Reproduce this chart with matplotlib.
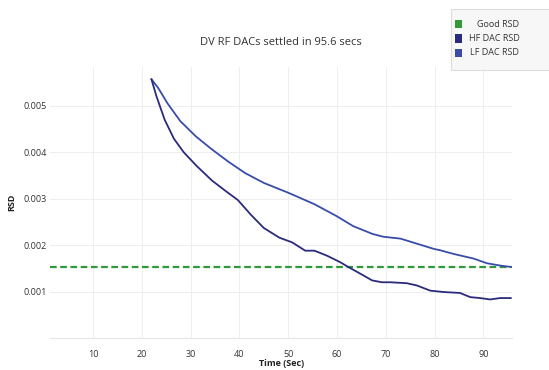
import matplotlib
matplotlib.use('Agg')
import matplotlib.pyplot as plt
from matplotlib.patches import Rectangle, FancyBboxPatch

# values
hf_t = [22.0, 23.0, 24.7, 26.6, 28.6, 31.2, 34.4, 37.0, 39.7, 42.4, 45.0, 48.2, 50.8, 53.5, 55.4, 58.0,
        60.7, 62.3, 65.2, 67.2, 69.2, 70.9, 74.3, 76.4, 79.1, 81.8, 85.2, 87.3, 89.3, 91.4, 93.4, 95.6]
hf_rsd = [0.00557, 0.00521, 0.00470, 0.00429, 0.00400, 0.00371, 0.00339, 0.00318, 0.00297, 0.00265, 0.00237,
          0.00216, 0.00206, 0.00188, 0.00188, 0.00177, 0.00163, 0.00153, 0.00136, 0.00124, 0.00120, 0.00120,
          0.00118, 0.00113, 0.00102, 0.00099, 0.00097, 0.00088, 0.00086, 0.00083, 0.00086, 0.00086]
lf_t = [22.0, 23.4, 25.3, 27.9, 31.1, 34.4, 37.7, 41.2, 45.0, 50.2, 55.4, 60.0, 63.3, 67.3, 69.5, 73.0,
        76.4, 79.8, 81.1, 83.9, 88.0, 90.7, 93.4, 95.6]
lf_rsd = [0.00557, 0.00538, 0.00505, 0.00467, 0.00434, 0.00406, 0.00380, 0.00355, 0.00334, 0.00312, 0.00288,
          0.00262, 0.00241, 0.00224, 0.00218, 0.00214, 0.00203, 0.00192, 0.00189, 0.00181, 0.00171, 0.00161,
          0.00156, 0.00153]
good_rsd = 0.00152
x_ticks = [10, 20, 30, 40, 50, 60, 70, 80, 90]
y_ticks = [0.001, 0.002, 0.003, 0.004, 0.005]
legend_labels = ['Good RSD', 'HF DAC RSD', 'LF DAC RSD']

GREEN = '#2e9a3a'
NAVY = '#2b2b7e'
BLUE = '#3a4caa'

plt.rcParams['font.family'] = ['Open Sans', 'DejaVu Sans']

fig = plt.figure(figsize=(5.49, 3.70), dpi=100)
ax = fig.add_axes([0.091, 0.0865, 0.842, 0.733])

ax.axhline(good_rsd, color=GREEN, lw=1.6, ls=(0, (3, 1.6)), zorder=2)
ax.plot(lf_t, lf_rsd, color=BLUE, lw=1.3, zorder=3)
ax.plot(hf_t, hf_rsd, color=NAVY, lw=1.3, zorder=4)

ax.set_xlim(1.2, 95.9)
ax.set_ylim(0, 0.00584)
ax.set_xticks(x_ticks)
ax.set_yticks(y_ticks)
ax.set_yticklabels(['%.3f' % v for v in y_ticks])
ax.tick_params(length=0, labelsize=6.5, colors='#333333')
ax.tick_params(axis='x', pad=9)
ax.tick_params(axis='y', pad=2.5)
ax.grid(True, color='#eeeeee', lw=0.7)
ax.set_axisbelow(True)
for s in ['top', 'right', 'left']:
    ax.spines[s].set_visible(False)
ax.spines['bottom'].set_color('#e6e6e6')

ax.set_title('DV RF DACs settled in 95.6 secs', fontsize=8, color='#333333', pad=16)
ax.set_xlabel('Time (Sec)', fontsize=6.5, fontweight='bold', color='#222222', labelpad=0)
ax.set_ylabel('RSD', fontsize=6.5, fontweight='bold', color='#222222', labelpad=5)

# legend box drawn by hand so that the labels can be right aligned
fig.patches.append(FancyBboxPatch((0.822, 0.812), 0.2, 0.163, boxstyle='square,pad=0',
                                  transform=fig.transFigure, facecolor='#f7f7f7',
                                  edgecolor='#dddddd', lw=0.8))
for i, (lab, c) in enumerate(zip(legend_labels, [GREEN, NAVY, BLUE])):
    yy = 0.935 - i * 0.039
    fig.patches.append(Rectangle((0.829, yy - 0.011), 0.013, 0.022, transform=fig.transFigure,
                                 facecolor=c, edgecolor='none'))
    fig.text(0.946, yy, lab, ha='right', va='center', fontsize=6.5, color='#333333')

fig.savefig('out.png', dpi=100)
